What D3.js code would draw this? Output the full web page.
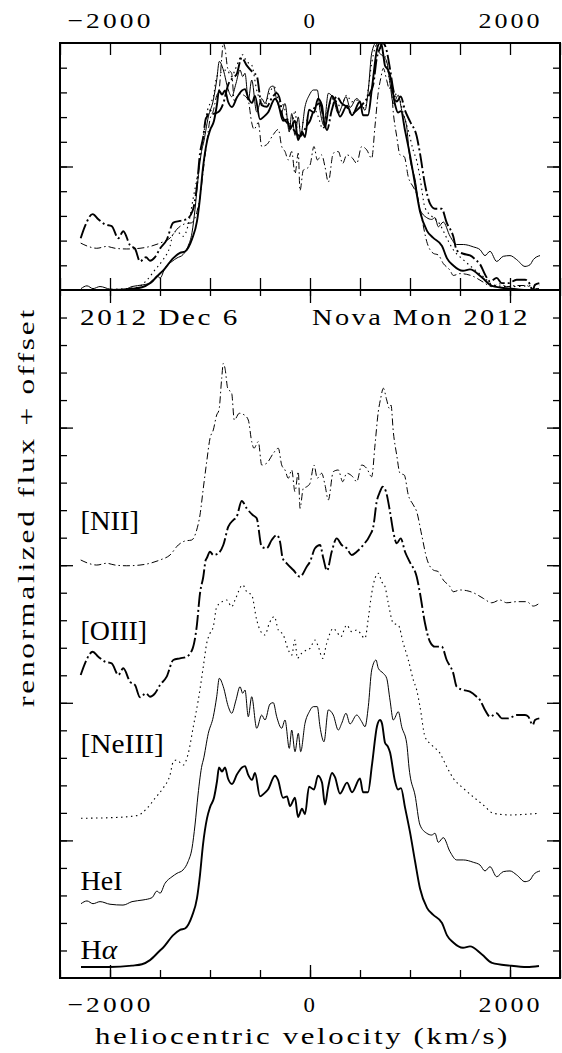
<!DOCTYPE html>
<html><head><meta charset="utf-8">
<script src="https://cdn.jsdelivr.net/npm/d3@7/dist/d3.min.js"></script>
<style>body{margin:0;background:#fff}svg{display:block}</style>
</head><body>
<svg id="c" width="562" height="1053"></svg>
<script>
// ---------- DATA (velocity km/s, renormalized flux + offset) ----------
const halpha = [[-2290,0.08],[-2000,0.08],[-1780,0.09],[-1680,0.10],[-1600,0.13],[-1500,0.20],[-1470,0.22],[-1370,0.31],[-1300,0.35],[-1250,0.36],[-1180,0.45],[-1130,0.58],[-1100,0.75],[-1070,0.97],[-1030,1.16],[-1000,1.24],[-960,1.31],[-930,1.43],[-910,1.53],[-880,1.50],[-850,1.53],[-820,1.45],[-780,1.41],[-730,1.48],[-680,1.53],[-650,1.54],[-620,1.48],[-580,1.44],[-550,1.49],[-500,1.32],[-460,1.34],[-420,1.37],[-350,1.47],[-320,1.44],[-270,1.31],[-230,1.32],[-200,1.25],[-150,1.31],[-120,1.17],[-80,1.23],[-50,1.19],[-10,1.39],[40,1.37],[80,1.47],[120,1.42],[150,1.26],[180,1.38],[220,1.49],[250,1.46],[300,1.34],[370,1.42],[420,1.35],[500,1.45],[530,1.35],[580,1.35],[620,1.55],[670,1.83],[700,1.875],[720,1.85],[750,1.71],[780,1.68],[800,1.64],[850,1.43],[880,1.37],[910,1.38],[950,1.24],[1000,1.06],[1050,0.85],[1100,0.65],[1170,0.51],[1230,0.46],[1320,0.40],[1370,0.31],[1430,0.26],[1530,0.22],[1600,0.23],[1720,0.17],[1820,0.11],[2000,0.09],[2170,0.08],[2290,0.087]];

const hei = [[-2290,0.54],[-2230,0.56],[-2170,0.54],[-2100,0.555],[-2000,0.536],[-1870,0.53],[-1780,0.555],[-1670,0.567],[-1580,0.584],[-1530,0.632],[-1500,0.616],[-1450,0.688],[-1380,0.736],[-1330,0.761],[-1270,0.785],[-1220,0.845],[-1180,0.943],[-1150,1.112],[-1120,1.33],[-1080,1.548],[-1067,1.584],[-1017,1.778],[-967,1.899],[-933,2.044],[-907,2.178],[-867,2.117],[-817,1.972],[-783,1.924],[-740,2.02],[-700,2.117],[-673,2.069],[-650,2.093],[-617,1.899],[-583,2.044],[-533,1.815],[-483,1.911],[-450,1.875],[-400,1.991],[-367,2.001],[-333,1.899],[-283,1.815],[-250,1.875],[-207,1.669],[-183,1.802],[-150,1.645],[-117,1.778],[-93,1.645],[-50,1.851],[-7,1.935],[33,1.972],[73,1.972],[100,1.826],[140,1.717],[183,1.948],[233,1.911],[283,1.802],[317,1.851],[360,1.924],[400,1.846],[467,1.911],[517,1.863],[550,1.826],[583,1.972],[617,2.238],[660,2.311],[683,2.251],[733,2.214],[767,2.178],[800,2.02],[833,1.875],[883,1.935],[917,1.826],[967,1.706],[993,1.512],[1000,1.475],[1050,1.33],[1100,1.112],[1167,1.052],[1217,1.039],[1250,1.052],[1283,0.986],[1333,1.02],[1400,0.918],[1467,0.858],[1533,0.858],[1633,0.841],[1700,0.821],[1750,0.778],[1800,0.809],[1867,0.736],[1933,0.773],[2000,0.778],[2067,0.749],[2150,0.70],[2200,0.712],[2233,0.749],[2300,0.778]];

const neiii = [[-2290,1.161],[-2000,1.165],[-1730,1.18],[-1630,1.233],[-1550,1.306],[-1470,1.379],[-1400,1.475],[-1367,1.572],[-1333,1.584],[-1267,1.548],[-1217,1.633],[-1167,1.826],[-1117,2.02],[-1067,2.262],[-1033,2.432],[-1000,2.505],[-967,2.553],[-933,2.698],[-900,2.723],[-833,2.747],[-783,2.698],[-750,2.747],[-673,2.856],[-633,2.807],[-583,2.783],[-533,2.602],[-500,2.529],[-450,2.493],[-407,2.578],[-357,2.626],[-317,2.529],[-267,2.493],[-217,2.384],[-183,2.347],[-150,2.456],[-127,2.323],[-83,2.36],[-33,2.384],[0,2.396],[50,2.456],[83,2.408],[127,2.323],[167,2.432],[233,2.541],[267,2.517],[307,2.48],[367,2.565],[417,2.517],[467,2.529],[550,2.469],[583,2.614],[617,2.796],[650,2.905],[683,2.941],[717,2.88],[750,2.844],[783,2.723],[833,2.578],[883,2.565],[933,2.432],[983,2.311],[1033,2.166],[1067,2.093],[1100,1.972],[1150,1.754],[1217,1.693],[1300,1.633],[1367,1.536],[1433,1.451],[1533,1.379],[1650,1.306],[1733,1.257],[1833,1.197],[2000,1.185],[2167,1.19],[2293,1.197]];

const oiii = [[-2293,2.202],[-2250,2.287],[-2173,2.371],[-2117,2.335],[-2050,2.299],[-1983,2.287],[-1917,2.202],[-1867,2.251],[-1800,2.153],[-1750,2.129],[-1700,2.04],[-1640,2.069],[-1600,2.044],[-1550,2.069],[-1500,2.129],[-1433,2.19],[-1367,2.311],[-1300,2.323],[-1233,2.335],[-1173,2.396],[-1133,2.553],[-1100,2.796],[-1067,2.916],[-1043,3.038],[-1033,3.05],[-1000,3.098],[-967,3.074],[-917,3.086],[-867,3.147],[-817,3.28],[-767,3.328],[-733,3.352],[-683,3.467],[-633,3.413],[-573,3.365],[-533,3.341],[-483,3.134],[-433,3.123],[-383,3.183],[-333,3.219],[-300,3.171],[-273,3.05],[-233,3.014],[-167,2.965],[-100,2.916],[-33,2.989],[0,3.025],[50,3.123],[100,3.147],[133,3.05],[170,2.96],[217,3.098],[267,3.195],[317,3.147],[367,3.123],[417,3.074],[467,3.098],[533,3.147],[600,3.219],[633,3.28],[667,3.461],[700,3.534],[727,3.57],[760,3.534],[800,3.389],[833,3.243],[867,3.159],[907,3.195],[950,3.098],[1000,3.02],[1067,2.916],[1100,2.796],[1150,2.578],[1200,2.444],[1250,2.408],[1317,2.408],[1367,2.311],[1433,2.214],[1467,2.117],[1533,2.093],[1600,2.081],[1667,2.044],[1700,2.02],[1750,1.948],[1800,1.899],[1867,1.924],[1917,1.887],[1983,1.887],[2067,1.911],[2150,1.911],[2183,1.899],[2227,1.839],[2250,1.875],[2293,1.887]];

const nii = [[-2293,3.038],[-2217,3.014],[-2133,3.001],[-2033,3.014],[-1950,3.001],[-1833,2.996],[-1700,3.001],[-1600,3.014],[-1500,3.038],[-1400,3.074],[-1317,3.147],[-1250,3.176],[-1183,3.183],[-1133,3.256],[-1100,3.365],[-1067,3.559],[-1033,3.752],[-1000,3.922],[-967,3.983],[-933,4.092],[-910,4.128],[-883,4.358],[-867,4.467],[-850,4.431],[-823,4.286],[-783,4.249],[-757,4.055],[-707,4.104],[-657,4.092],[-617,4.055],[-583,3.898],[-560,3.85],[-517,3.898],[-483,3.728],[-433,3.741],[-367,3.813],[-317,3.85],[-283,3.728],[-250,3.692],[-217,3.632],[-183,3.692],[-150,3.534],[-117,3.68],[-100,3.413],[-67,3.559],[-33,3.57],[0,3.595],[40,3.728],[73,3.632],[117,3.668],[150,3.583],[183,3.474],[233,3.68],[283,3.692],[327,3.607],[367,3.668],[427,3.643],[467,3.607],[517,3.728],[567,3.704],[617,3.643],[650,3.874],[683,4.116],[707,4.213],[733,4.286],[767,4.201],[793,4.14],[810,4.164],[833,3.97],[867,3.801],[900,3.668],[943,3.655],[983,3.51],[1033,3.438],[1067,3.389],[1117,3.219],[1167,3.05],[1233,2.965],[1283,2.953],[1333,2.892],[1400,2.844],[1433,2.807],[1500,2.82],[1567,2.815],[1633,2.8],[1733,2.759],[1817,2.727],[1900,2.747],[1967,2.727],[2067,2.735],[2167,2.735],[2233,2.703],[2293,2.723]];

const seriesNames = ["[NII]","[OIII]","[NeIII]","HeI","H\u03b1"];
const labelY = [3.256, 2.456, 1.635, 0.64, 0.138];
const xMajorTicks = [-2000, 0, 2000];
const xTickLabels = ["\u22122000", "0", "2000"];
const dateText = "2012 Dec 6";
const objectText = "Nova Mon 2012";
const xTitle = "heliocentric velocity (km/s)";
const yTitle = "renormalized flux + offset";

// ---------- STYLES ----------
const styles = [
  {w:1.0, dash:"7,3,1.5,3", len:58.6},
  {w:1.9, dash:"15,3,2,3", len:66.6},
  {w:1.1, dash:"1.5,3.5", len:83.3},
  {w:1.0, dash:null, len:42},
  {w:1.9, dash:null, len:36.7}
];
const allData = [nii, oiii, neiii, hei, halpha];

// ---------- SCALES ----------
const L = 60, R = 560, T = 43, MID = 290, B = 978;
const x = d3.scaleLinear().domain([-2500, 2500]).range([L, R]);
const yTop = d3.scaleLinear().domain([0, 1]).range([MID, T]);
const yBot = d3.scaleLinear().domain([0, 5]).range([B, MID]);

const svg = d3.select("#c");
const hershey = "Liberation Serif, Times New Roman, serif";
const serif = "Liberation Serif, Times New Roman, serif";

// ---------- CURVES ----------
const gTop = svg.append("g");
const gBot = svg.append("g");
allData.forEach((data, i) => {
  const st = styles[i];
  const [mn, mx] = d3.extent(data, d => d[1]);
  const lineB = d3.line().x(d => x(d[0])).y(d => yBot(d[1])).curve(d3.curveMonotoneX);
  const lineT = d3.line().x(d => x(d[0])).y(d => yTop((d[1] - mn) / (mx - mn))).curve(d3.curveMonotoneX);
  [[gBot, lineB], [gTop, lineT]].forEach(([g, ln]) => {
    g.append("path").datum(data).attr("d", ln)
      .attr("fill", "none").attr("stroke", "#000")
      .attr("stroke-width", st.w).attr("stroke-linejoin", "round")
      .attr("stroke-dasharray", st.dash);
  });
  svg.append("text").attr("x", x(-2295)).attr("y", yBot(labelY[i]))
    .attr("font-family", serif).attr("font-size", 28)
    .attr("textLength", st.len).attr("lengthAdjust", "spacingAndGlyphs")
    .call(t => {
      if (seriesNames[i] === "H\u03b1") {
        t.append("tspan").text("H");
        t.append("tspan").attr("font-style", "italic").text("\u03b1");
      } else t.text(seriesNames[i]);
    });
});

// ---------- AXES / TICKS ----------
const allX = d3.range(-2500, 2501, 500);
function ax(gen, tx, ty) {
  const g = svg.append("g").attr("transform", `translate(${tx},${ty})`).call(gen);
  g.select(".domain").remove();
  g.selectAll("line").attr("stroke", "#000").attr("stroke-width", 1.3);
  return g;
}
ax(d3.axisTop(x).tickValues(allX).tickSizeInner(-12).tickSizeOuter(0).tickFormat(""), 0, T);
const topLab = ax(d3.axisTop(x).tickValues(xMajorTicks).tickSizeInner(0).tickSizeOuter(0).tickPadding(15).tickFormat((d, i) => xTickLabels[i]), 0, T);
ax(d3.axisBottom(x).tickValues(allX).tickSizeInner(-12).tickSizeOuter(0).tickFormat(""), 0, MID);
ax(d3.axisBottom(x).tickValues(allX).tickSizeInner(6).tickSizeOuter(0).tickFormat(""), 0, MID);
ax(d3.axisBottom(x).tickValues(xMajorTicks).tickSizeInner(13).tickSizeOuter(0).tickFormat(""), 0, MID);
ax(d3.axisBottom(x).tickValues(allX).tickSizeInner(-8).tickSizeOuter(0).tickFormat(""), 0, B);
const botLab = ax(d3.axisBottom(x).tickValues(xMajorTicks).tickSizeInner(-13).tickSizeOuter(0).tickPadding(18).tickFormat((d, i) => xTickLabels[i]), 0, B);
[topLab, botLab].forEach(g => g.selectAll("text")
  .attr("font-family", hershey).attr("font-size", 22).attr("fill", "#000")
  .attr("letter-spacing", 2.5)
  .each(function(d, i) {
    const lens = [86, 14, 64];
    d3.select(this).attr("textLength", lens[i]).attr("lengthAdjust", "spacingAndGlyphs");
  }));
const yTopMinor = d3.range(0.1, 1.0, 0.1);
ax(d3.axisLeft(yTop).tickValues(yTopMinor).tickSizeInner(-7).tickSizeOuter(0).tickFormat(""), L, 0);
ax(d3.axisLeft(yTop).tickValues([0.5]).tickSizeInner(-13).tickSizeOuter(0).tickFormat(""), L, 0);
ax(d3.axisRight(yTop).tickValues(yTopMinor).tickSizeInner(-7).tickSizeOuter(0).tickFormat(""), R, 0);
ax(d3.axisRight(yTop).tickValues([0.5]).tickSizeInner(-13).tickSizeOuter(0).tickFormat(""), R, 0);
const yBotMinor = d3.range(0.2, 4.99, 0.2);
ax(d3.axisLeft(yBot).tickValues(yBotMinor).tickSizeInner(-7).tickSizeOuter(0).tickFormat(""), L, 0);
ax(d3.axisLeft(yBot).tickValues([1, 2, 3, 4]).tickSizeInner(-13).tickSizeOuter(0).tickFormat(""), L, 0);
ax(d3.axisRight(yBot).tickValues(yBotMinor).tickSizeInner(-7).tickSizeOuter(0).tickFormat(""), R, 0);
ax(d3.axisRight(yBot).tickValues([1, 2, 3, 4]).tickSizeInner(-13).tickSizeOuter(0).tickFormat(""), R, 0);

svg.append("rect").attr("x", L).attr("y", T).attr("width", R - L).attr("height", B - T)
  .attr("fill", "none").attr("stroke", "#000").attr("stroke-width", 2);
svg.append("line").attr("x1", L).attr("x2", R).attr("y1", MID).attr("y2", MID)
  .attr("stroke", "#000").attr("stroke-width", 2);

// ---------- TEXT ----------
function label(sel, txt, size, len) {
  return sel.text(txt).attr("font-family", hershey).attr("font-size", size)
    .attr("letter-spacing", 2).attr("textLength", len).attr("lengthAdjust", "spacingAndGlyphs");
}
label(svg.append("text").attr("x", 80).attr("y", 325), dateText, 23, 160);
label(svg.append("text").attr("x", 312).attr("y", 325), objectText, 23, 218);
label(svg.append("text").attr("x", 95).attr("y", 1044), xTitle, 23, 415);
label(svg.append("text").attr("transform", "translate(34,707) rotate(-90)"), yTitle, 23, 400);
</script>
</body></html>
